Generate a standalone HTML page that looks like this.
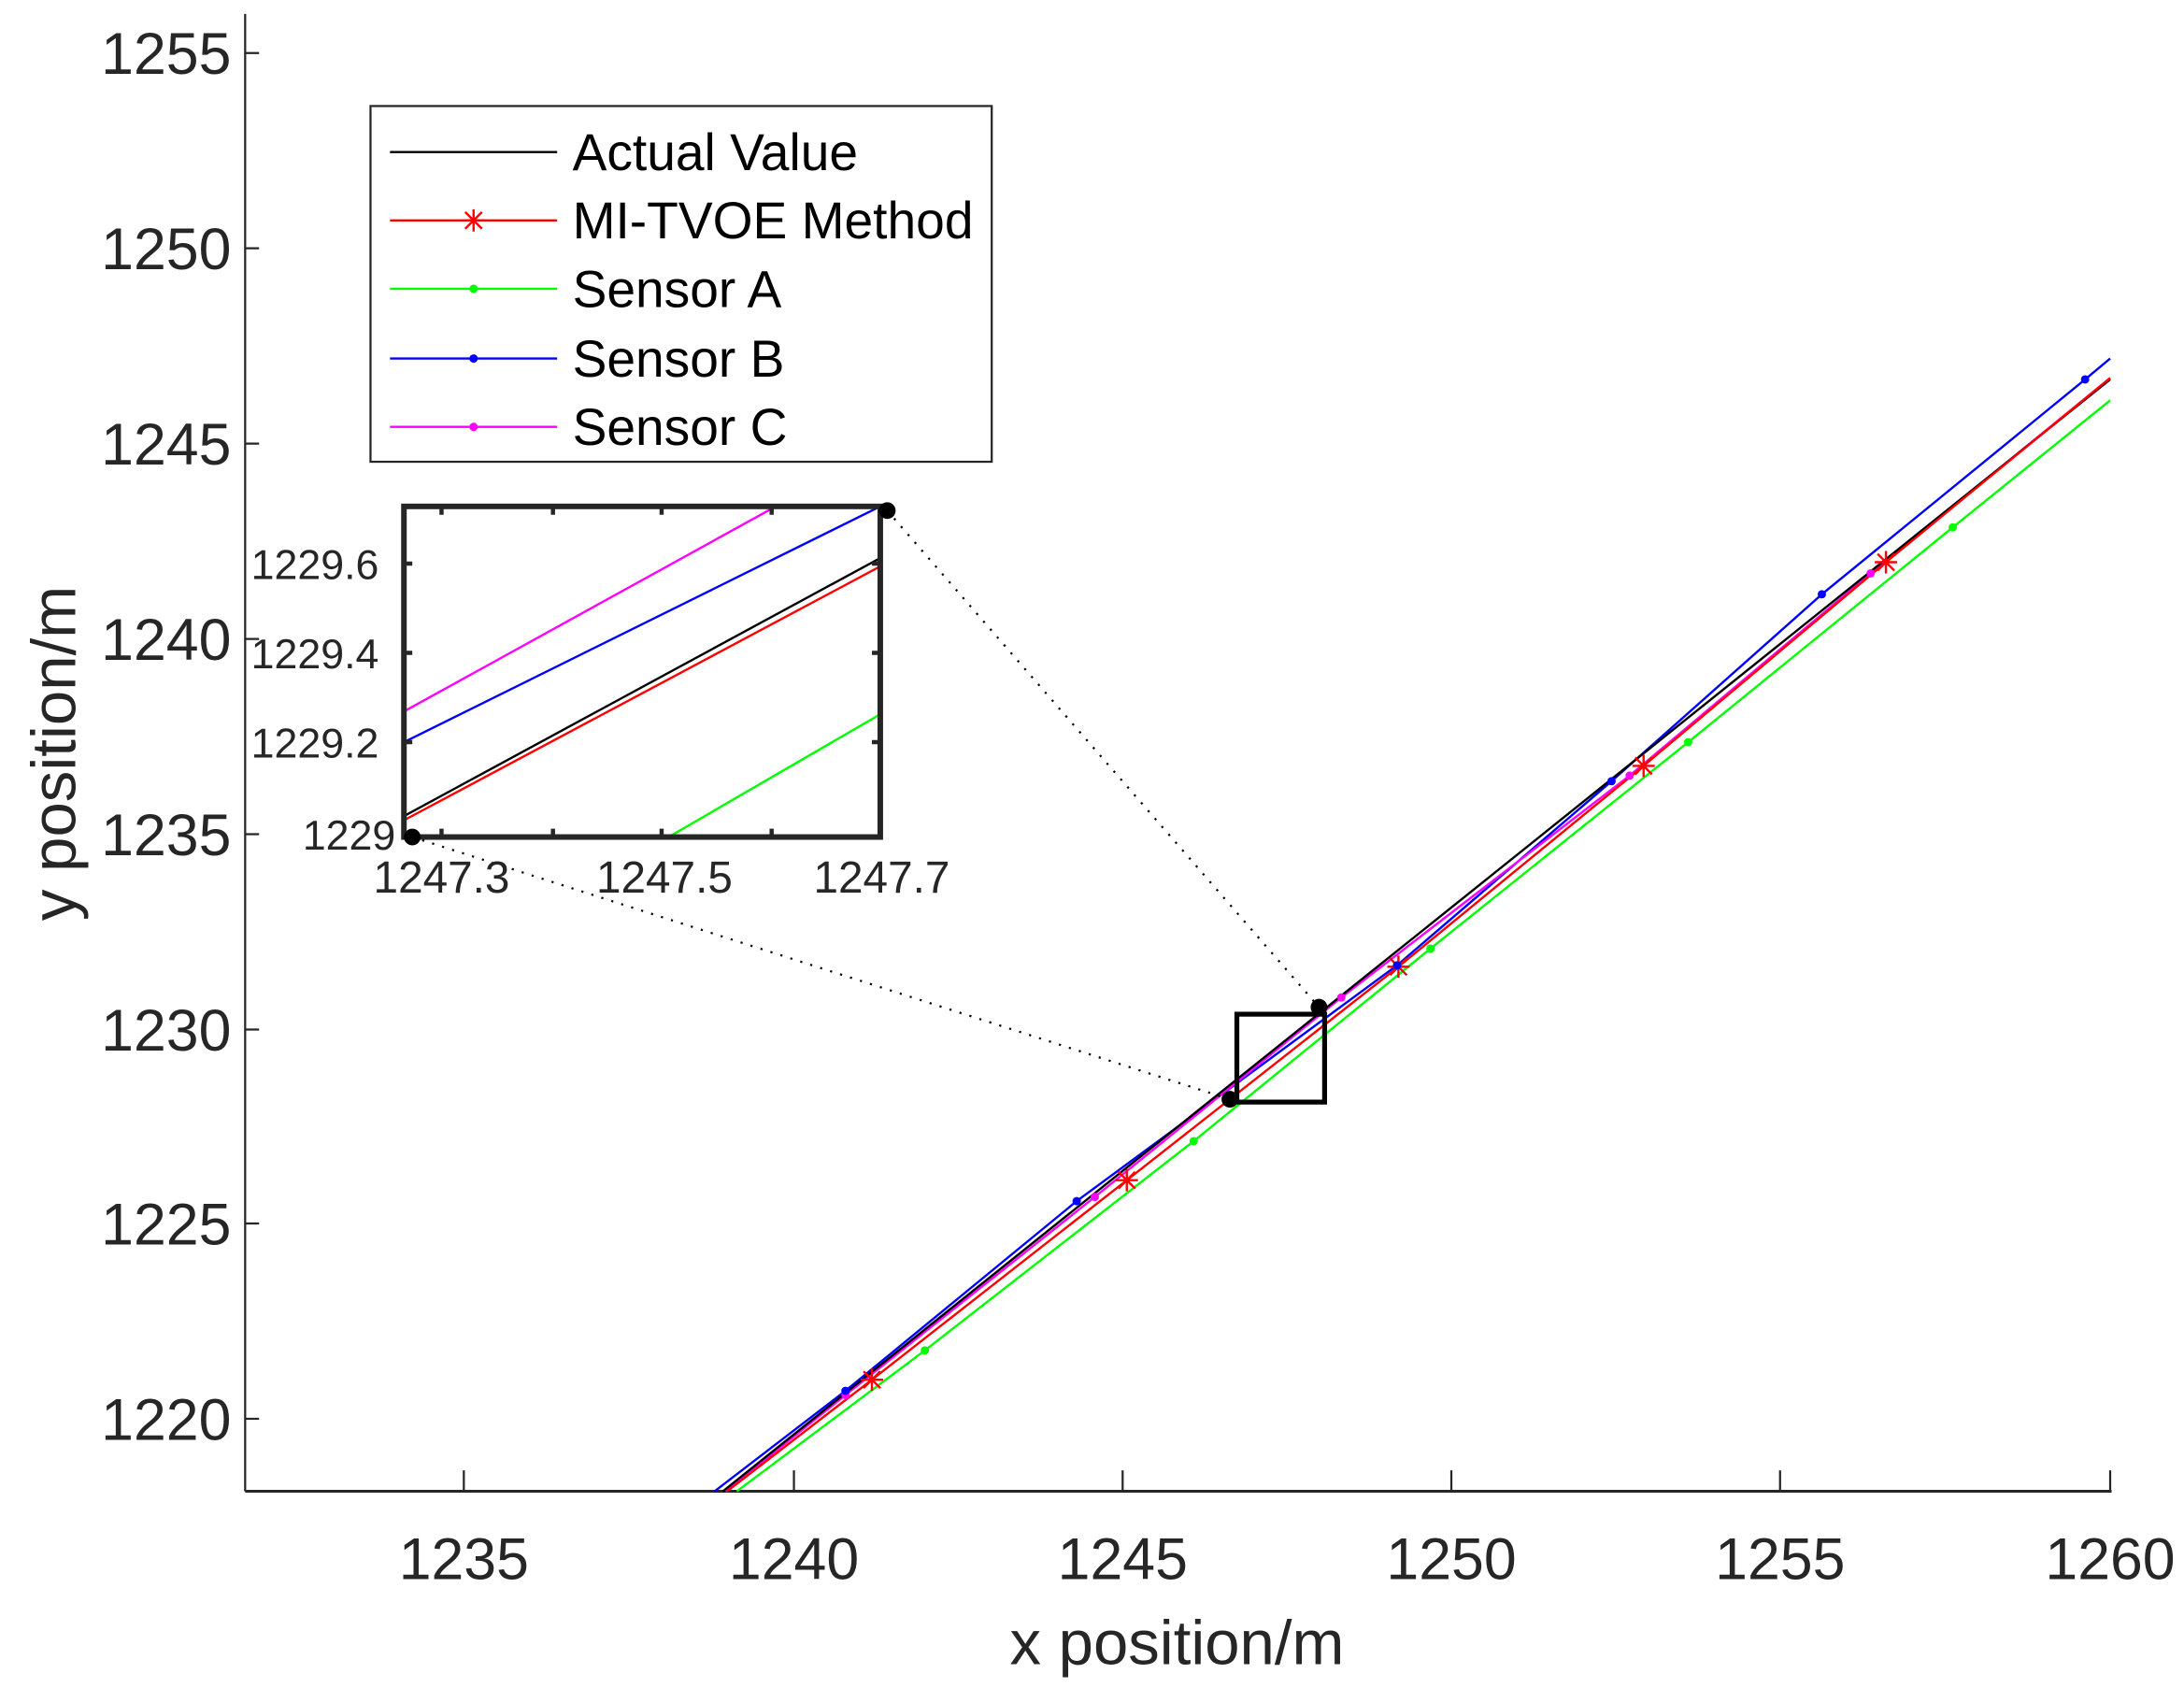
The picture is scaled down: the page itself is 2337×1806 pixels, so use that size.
<!DOCTYPE html>
<html><head><meta charset="utf-8"><style>
html,body{margin:0;padding:0;background:#fff}
svg{display:block}
text{font-family:"Liberation Sans",sans-serif;fill:#262626}
</style></head><body>
<svg width="2337" height="1806" viewBox="0 0 1568 1210" preserveAspectRatio="none" xmlns="http://www.w3.org/2000/svg">
<defs>
<g id="star"><path d="M-8,0H8M0,-8V8M-6,-6L6,6M-6,6L6,-6" stroke="#f00" stroke-width="1.6" fill="none"/></g>
</defs>
<g stroke="#262626" stroke-width="1.5" fill="none">
<line x1="176" y1="10" x2="176" y2="1069"/>
<line x1="176" y1="1069" x2="1516" y2="1069" stroke-width="2"/>
<path d="M176,38h10M176,178h10M176,318h10M176,458h10M176,598h10M176,738h10M176,877h10M176,1017h10"/>
<path d="M333,1069v-15M570,1069v-15M806,1069v-15M1042,1069v-15M1278,1069v-15M1515,1069v-15"/>
</g>
<g font-size="42" text-anchor="end">
<text x="166" y="53">1255</text><text x="166" y="193">1250</text><text x="166" y="333">1245</text><text x="166" y="473">1240</text><text x="166" y="613">1235</text><text x="166" y="753">1230</text><text x="166" y="892">1225</text><text x="166" y="1032">1220</text>
</g>
<g font-size="42" text-anchor="middle">
<text x="333" y="1132">1235</text><text x="570" y="1132">1240</text><text x="806" y="1132">1245</text><text x="1042" y="1132">1250</text><text x="1278" y="1132">1255</text><text x="1515" y="1132">1260</text>
<text x="845" y="1193" font-size="45">x position/m</text>
<text transform="translate(54,540) rotate(-90)" font-size="45">y position/m</text>
</g>
<g fill="none" stroke-width="1.6">
<polyline stroke="#0f0" points="529,1069 664,968 857,818 1027,680 1212,532 1402,378 1515,287"/>
<polyline stroke="#00f" points="513,1069 607,997 773,861 1003,692 1157,560 1308,426 1497,272 1515,257"/>
<polyline stroke="#f0f" points="521,1069 607,1000 786,858 963,715 1170,556 1343,411 1515,271"/>
<polyline stroke="#000" points="519,1069 1515,272"/>
<polyline stroke="#f00" points="522,1069 626,989 809,846 1004,693 1180,549 1354,403 1515,271"/>
</g>
<g fill="#0f0"><circle cx="664" cy="968" r="3"/><circle cx="857" cy="818" r="3"/><circle cx="1027" cy="680" r="3"/><circle cx="1212" cy="532" r="3"/><circle cx="1402" cy="378" r="3"/></g>
<g fill="#f0f"><circle cx="607" cy="1000" r="3"/><circle cx="786" cy="858" r="3"/><circle cx="963" cy="715" r="3"/><circle cx="1170" cy="556" r="3"/><circle cx="1343" cy="411" r="3"/></g>
<use href="#star" x="626" y="989"/><use href="#star" x="809" y="846"/><use href="#star" x="1004" y="693"/><use href="#star" x="1180" y="549"/><use href="#star" x="1354" y="403"/>
<g fill="#00f"><circle cx="607" cy="997" r="3"/><circle cx="773" cy="861" r="3"/><circle cx="1003" cy="692" r="3"/><circle cx="1157" cy="560" r="3"/><circle cx="1308" cy="426" r="3"/><circle cx="1497" cy="272" r="3"/></g>
<rect x="888" y="727" width="63" height="63" fill="none" stroke="#000" stroke-width="3.5"/>
<g stroke="#000" stroke-width="1.5" stroke-dasharray="1.5,6" fill="none">
<line x1="296" y1="600" x2="883" y2="788"/><line x1="637" y1="366" x2="947" y2="722"/>
</g>
<g fill="#000"><circle cx="883" cy="788" r="6"/><circle cx="947" cy="722" r="6"/></g>
<rect x="290" y="363" width="342" height="237" fill="#fff"/>
<g fill="none" stroke-width="1.6">
<line stroke="#f0f" x1="290" y1="510" x2="557" y2="363"/>
<line stroke="#00f" x1="290" y1="532" x2="632" y2="363"/>
<line stroke="#000" x1="290" y1="585" x2="632" y2="400"/>
<line stroke="#f00" x1="290" y1="588" x2="632" y2="406"/>
<line stroke="#0f0" x1="480" y1="600" x2="632" y2="512"/>
</g>
<rect x="290" y="363" width="342" height="237" fill="none" stroke="#262626" stroke-width="4"/>
<g stroke="#262626" stroke-width="3">
<path d="M317,363v6M397,363v6M475,363v6M554,363v6M317,600v-6M397,600v-6M475,600v-6M554,600v-6M632,404h-6M632,468h-6M632,532h-6M290,404h6M290,468h6M290,532h6"/>
</g>
<g font-size="30" text-anchor="end">
<text x="272" y="415">1229.6</text><text x="272" y="479">1229.4</text><text x="272" y="543">1229.2</text><text x="284" y="609">1229</text>
</g>
<g font-size="32" text-anchor="middle">
<text x="317" y="640">1247.3</text><text x="477" y="640">1247.5</text><text x="633" y="640">1247.7</text>
</g>
<g fill="#000"><circle cx="296" cy="600" r="6"/><circle cx="637" cy="366" r="6"/></g>
<rect x="266" y="76" width="446" height="255" fill="#fff" stroke="#262626" stroke-width="1.5"/>
<g stroke-width="1.6">
<line x1="280" y1="109" x2="400" y2="109" stroke="#000"/>
<line x1="280" y1="158" x2="400" y2="158" stroke="#f00"/>
<line x1="280" y1="207" x2="400" y2="207" stroke="#0f0"/>
<line x1="280" y1="257" x2="400" y2="257" stroke="#00f"/>
<line x1="280" y1="306" x2="400" y2="306" stroke="#f0f"/>
</g>
<use href="#star" x="340" y="158"/>
<circle cx="340" cy="207" r="3" fill="#0f0"/><circle cx="340" cy="257" r="3" fill="#00f"/><circle cx="340" cy="306" r="3" fill="#f0f"/>
<g font-size="37">
<text x="411" y="122" style="fill:#000">Actual Value</text>
<text x="411" y="171" style="fill:#000">MI-TVOE Method</text>
<text x="411" y="220" style="fill:#000">Sensor A</text>
<text x="411" y="270" style="fill:#000">Sensor B</text>
<text x="411" y="319" style="fill:#000">Sensor C</text>
</g>
</svg>
</body></html>
